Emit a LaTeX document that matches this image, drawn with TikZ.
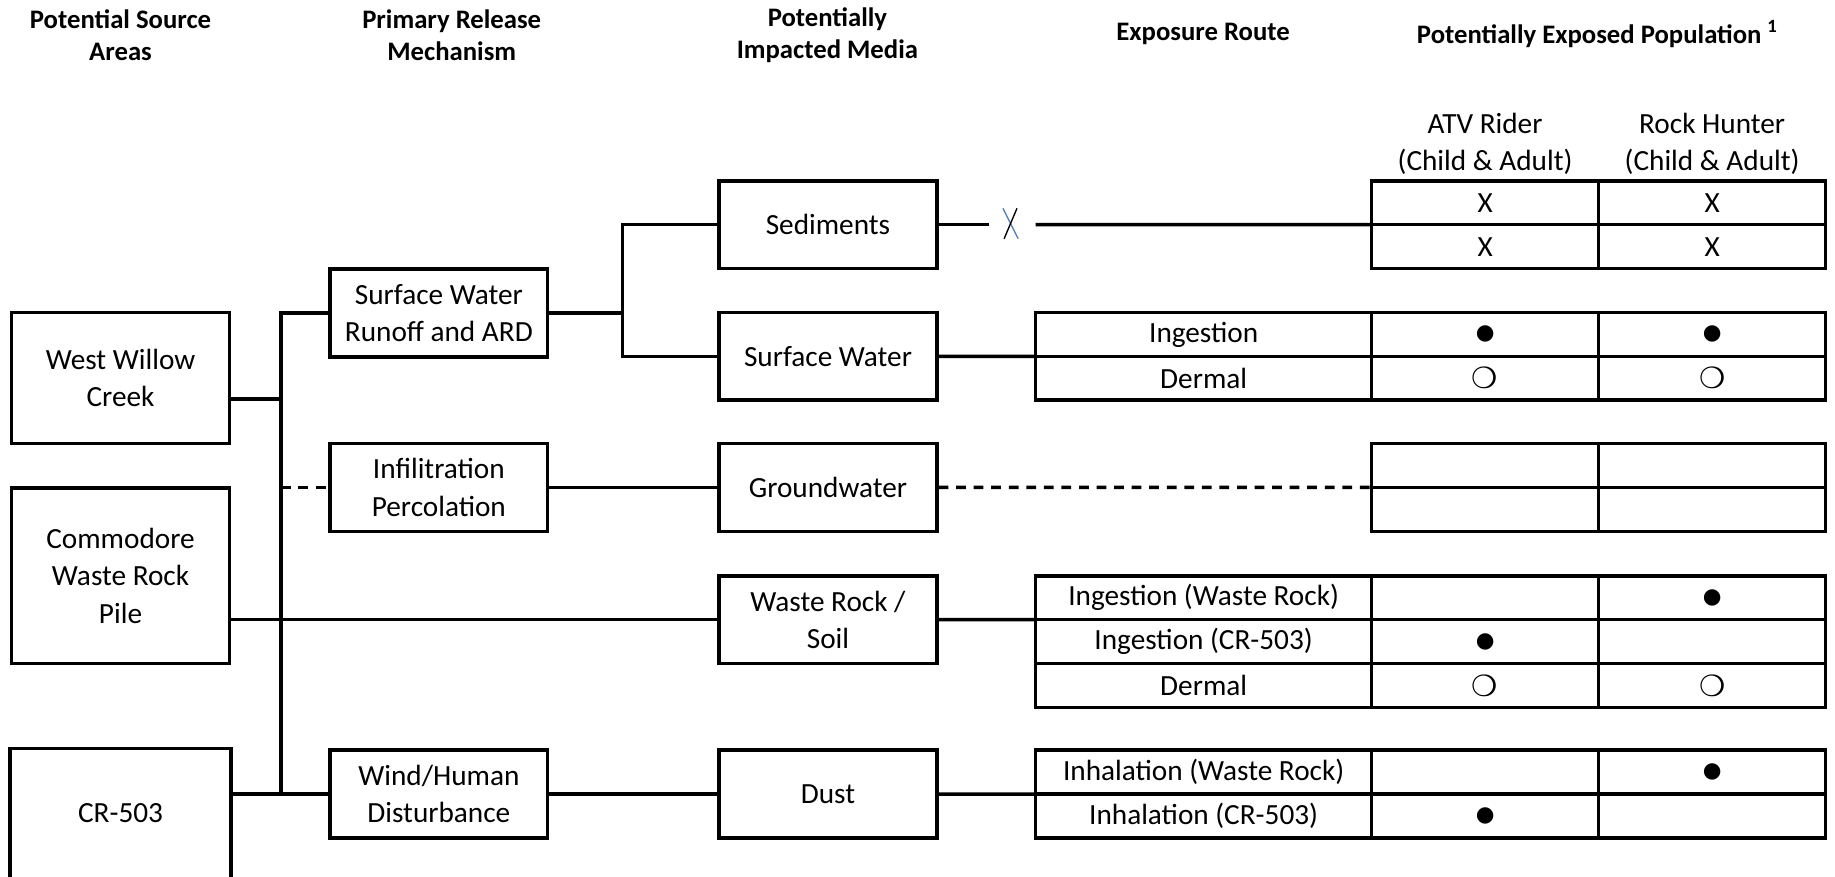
\documentclass[tikz,border=0pt]{standalone}
\usepackage{fontspec}
\setmainfont{Carlito}
\newfontfamily\symfont{DejaVu Sans}
\usepackage{tikz}
\usetikzlibrary{positioning,calc}

\tikzset{
  box/.style={draw, line width=1.8pt, align=center, inner sep=0pt,
    minimum width=111.6pt, minimum height=45pt, font=\fontsize{15}{19.2}\selectfont},
  cell/.style={draw, line width=1.8pt, inner sep=0pt, outer sep=0pt, minimum height=22.5pt,
    font=\fontsize{15}{18}\selectfont},
  routecell/.style={cell, minimum width=172.2pt},
  popcell/.style={cell, minimum width=116.4pt},
  head/.style={align=center, font=\bfseries\fontsize{13.7}{16.2}\selectfont},
  pophead/.style={align=center, font=\fontsize{15}{19.2}\selectfont},
  link/.style={line width=1.8pt},
  gap/.style={line width=1.8pt, dash pattern=on 5pt off 4pt},
}
\newcommand{\dotfull}{{\symfont\fontsize{11}{11}\selectfont ●}}
\newcommand{\dotopen}{{\symfont\fontsize{15}{15}\selectfont ❍}}

\begin{document}
\begin{tikzpicture}[x=0.6pt, y=-0.6pt]
    \useasboundingbox (0,0) rectangle (1568,749);
    % column headings
    \node[head] (hsrc) at (103,30) {Potential Source\\Areas};
    \node[head] (hrel) at (386,30) {Primary Release\\Mechanism};
    \node[head] (hmed) at (707,30) {Potentially\\Impacted Media};
    \node[head] (hroute) at (1028,29) {Exposure Route};
    \node[head] (hpop) at (1365,29) {Potentially Exposed Population \textsuperscript{1}};
    \node[pophead] (hatv) at (1269,123) {ATV Rider\\(Child \& Adult)};
    \node[pophead] (hrock) at (1463,123) {Rock Hunter\\(Child \& Adult)};

    % source areas
    \node[box, minimum height=67.2pt] (wwc) at (103,323) {West Willow\\Creek};
    \node[box, minimum height=90pt] (cwr) at (103,492) {Commodore\\Waste Rock\\Pile};
    \node[box, draw=none, minimum height=64.8pt] (cr) at (103,695) {CR-503};
    \draw[link] (cr.south west) -- (cr.north west) -- (cr.north east) -- (cr.south east);

    % release mechanisms
    \node[box] (swr) at (375,267.5) {Surface Water\\Runoff and ARD};
    \node[box] (inf) at (375,416.5) {Infilitration\\Percolation};
    \node[box] (wind) at (375,678.5) {Wind/Human\\Disturbance};

    % impacted media
    \node[box] (sed) at (707.5,192) {Sediments};
    \node[box] (sw) at (707.5,304.5) {Surface Water};
    \node[box] (gw) at (707.5,416.5) {Groundwater};
    \node[box] (wr) at (707.5,529.5) {Waste Rock /\\Soil};
    \node[box] (dust) at (707.5,678.5) {Dust};

    % sources to release
    \coordinate (bustop) at (240,267.5);
    \coordinate (busbot) at (240,678.5);
    \coordinate (wwcjoin) at (240,341);
    \draw[link] (swr.west) -- (bustop) -- (busbot) -- (cr.east |- busbot);
    \draw[link] (busbot) -- (wind.west);
    \draw[link] (wwc.east |- wwcjoin) -- (wwcjoin);
    \draw[link] (cwr.east |- wr.west) -- (wr.west);
    \draw[gap] (bustop |- inf.west) -- (inf.west);

    % release to media
    \coordinate (split) at (532,267.5);
    \draw[link] (swr.east) -- (split);
    \draw[link] (sed.west) -| (split) |- (sw.west);
    \draw[link] (inf) -- (gw);
    \draw[link] (wind) -- (dust);

    % sediments: incomplete
    \node[popcell] (sedA1) at (1269,173.25) {X};
    \node[popcell] (sedH1) at (1463,173.25) {X};
    \node[popcell] (sedA2) at (1269,210.75) {X};
    \node[popcell] (sedH2) at (1463,210.75) {X};
    \coordinate (cutL) at (845,192);
    \coordinate (cutR) at (885,192);
    \draw[link] (sed.east) -- (cutL);
    \draw[link] (cutR) -- (sedA1.south west);
    \draw[line width=0.7pt, color={rgb,255:red,79;green,129;blue,189}] (857,178) -- (870,204);
    \draw[line width=0.7pt] (869,178) -- (858,204);

    % surface water
    \node[routecell] (swR1) at (1028.5,285.75) {Ingestion};
    \node[popcell] (swA1) at (1269,285.75) {\dotfull};
    \node[popcell] (swH1) at (1463,285.75) {\dotfull};
    \node[routecell] (swR2) at (1028.5,323.25) {Dermal};
    \node[popcell] (swA2) at (1269,323.25) {\dotopen};
    \node[popcell] (swH2) at (1463,323.25) {\dotopen};
    \draw[link] (sw.east) -- (swR1.south west);

    % groundwater
    \node[popcell] (gwA1) at (1269,397.75) {};
    \node[popcell] (gwH1) at (1463,397.75) {};
    \node[popcell] (gwA2) at (1269,435.25) {};
    \node[popcell] (gwH2) at (1463,435.25) {};
    \draw[gap] (gw.east) -- (gwA1.south west);

    % waste rock / soil
    \node[routecell] (wrR1) at (1028.5,510.75) {Ingestion (Waste Rock)};
    \node[popcell] (wrA1) at (1269,510.75) {};
    \node[popcell] (wrH1) at (1463,510.75) {\dotfull};
    \node[routecell] (wrR2) at (1028.5,548.25) {Ingestion (CR-503)};
    \node[popcell] (wrA2) at (1269,548.25) {\dotfull};
    \node[popcell] (wrH2) at (1463,548.25) {};
    \node[routecell] (wrR3) at (1028.5,585.75) {Dermal};
    \node[popcell] (wrA3) at (1269,585.75) {\dotopen};
    \node[popcell] (wrH3) at (1463,585.75) {\dotopen};
    \draw[link] (wr.east) -- (wrR1.south west);

    % dust
    \node[routecell] (dustR1) at (1028.5,659.75) {Inhalation (Waste Rock)};
    \node[popcell] (dustA1) at (1269,659.75) {};
    \node[popcell] (dustH1) at (1463,659.75) {\dotfull};
    \node[routecell] (dustR2) at (1028.5,697.25) {Inhalation (CR-503)};
    \node[popcell] (dustA2) at (1269,697.25) {\dotfull};
    \node[popcell] (dustH2) at (1463,697.25) {};
    \draw[link] (dust.east) -- (dustR1.south west);
\end{tikzpicture}
\end{document}
